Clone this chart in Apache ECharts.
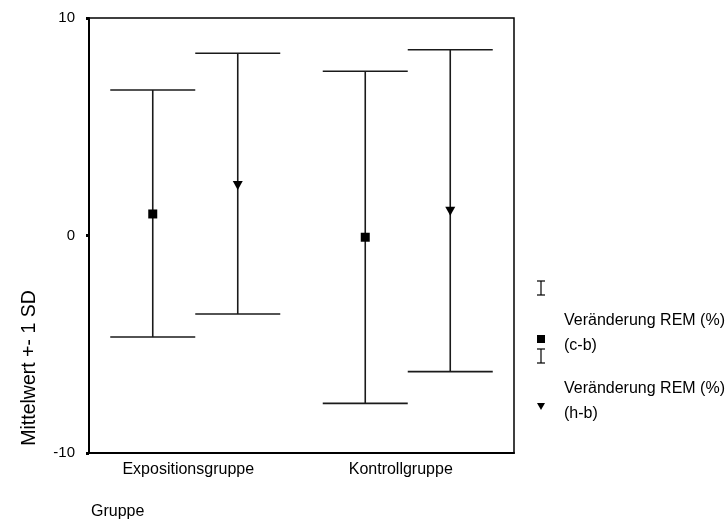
<!DOCTYPE html>
<html><head><meta charset="utf-8">
<script src="https://cdn.jsdelivr.net/npm/echarts@6/dist/echarts.min.js"></script>
<style>html,body{margin:0;padding:0;background:#fff}#c{width:726px;height:529px}</style>
</head><body><div id="c"></div>
<script>
const categories = ['Expositionsgruppe', 'Kontrollgruppe'];
const yTicks = [-10, 0, 10];
// Veränderung REM (%) (c-b)
const cbMean = [0.99, -0.08];
const cbLow = [-4.67, -7.72];
const cbHigh = [6.69, 7.55];
// Veränderung REM (%) (h-b)
const hbMean = [2.32, 1.14];
const hbLow = [-3.61, -6.26];
const hbHigh = [8.38, 8.54];

const FONT = 'Liberation Sans, Arial, sans-serif';
const chart = echarts.init(document.getElementById('c'));

function makeData(mean, low, high) {
  return categories.map((c, i) => [i, low[i], high[i], mean[i]]);
}
function errRender(side, markerType) {
  return function (params, api) {
    const i = api.value(0);
    const band = api.size([1, 0])[0];
    const center = api.coord([i, 0])[0];
    const x = center + side * 0.2 * band;
    const capL = x - 0.2 * band, capR = x + 0.2 * band;
    const yl = api.coord([i, api.value(1)])[1];
    const yh = api.coord([i, api.value(2)])[1];
    const ym = api.coord([i, api.value(3)])[1];
    const st = {stroke: '#1a1a1a', lineWidth: 1.6};
    const children = [
      {type: 'line', shape: {x1: x, y1: yl, x2: x, y2: yh}, style: st},
      {type: 'line', shape: {x1: capL, y1: yh, x2: capR, y2: yh}, style: st},
      {type: 'line', shape: {x1: capL, y1: yl, x2: capR, y2: yl}, style: st}
    ];
    if (markerType === 'square') {
      children.push({type: 'rect', shape: {x: x - 4.5, y: ym - 4.5, width: 9, height: 9}, style: {fill: '#000'}});
    } else {
      children.push({type: 'polygon', shape: {points: [[x - 5, ym - 4], [x + 5, ym - 4], [x, ym + 5]]}, style: {fill: '#000'}});
    }
    return {type: 'group', children};
  };
}

const lx = 541;
const LF = 16;
chart.setOption({
  animation: false,
  backgroundColor: '#fff',
  grid: {left: 89, right: 212, top: 18, bottom: 76, show: true, borderColor: '#000', borderWidth: 1.5},
  xAxis: {
    type: 'category', data: categories,
    axisLine: {onZero: false, lineStyle: {color: '#000', width: 2}},
    axisTick: {alignWithLabel: true, length: 3, lineStyle: {color: '#000', width: 4}},
    axisLabel: {color: '#000', fontFamily: FONT, fontSize: 16, margin: 9, padding: [0, 14, 0, 0]}
  },
  yAxis: {
    type: 'value', min: -10, max: 10, interval: 10,
    axisLine: {show: true, lineStyle: {color: '#000', width: 2}},
    axisTick: {show: true, length: 3, lineStyle: {color: '#000', width: 3}},
    splitLine: {show: false},
    axisLabel: {color: '#000', fontFamily: FONT, fontSize: 15, margin: 14,
      formatter: v => yTicks.includes(v) ? String(v) : ''}
  },
  series: [
    {type: 'custom', name: 'Veränderung REM (%) (c-b)', renderItem: errRender(-1, 'square'),
      data: makeData(cbMean, cbLow, cbHigh), encode: {x: 0, y: [1, 2, 3]}},
    {type: 'custom', name: 'Veränderung REM (%) (h-b)', renderItem: errRender(1, 'triangle'),
      data: makeData(hbMean, hbLow, hbHigh), encode: {x: 0, y: [1, 2, 3]}}
  ],
  graphic: [
    {type: 'text', x: 30, y: 368, rotation: Math.PI / 2,
      style: {text: 'Mittelwert +- 1 SD', fontFamily: FONT, fontSize: 19.5, fill: '#000', textAlign: 'center', textVerticalAlign: 'middle'}},
    {type: 'text', x: 91, y: 512,
      style: {text: 'Gruppe', fontFamily: FONT, fontSize: 16, fill: '#000', textVerticalAlign: 'middle'}},
    // legend item 1
    {type: 'group', x: lx, y: 288, children: [
      {type: 'line', shape: {x1: 0, y1: -7, x2: 0, y2: 7}, style: {stroke: '#000', lineWidth: 1.2}},
      {type: 'line', shape: {x1: -4, y1: -7, x2: 4, y2: -7}, style: {stroke: '#000', lineWidth: 1.2}},
      {type: 'line', shape: {x1: -4, y1: 7, x2: 4, y2: 7}, style: {stroke: '#000', lineWidth: 1.2}}
    ]},
    {type: 'text', x: 564, y: 321, style: {text: 'Veränderung REM (%)', fontFamily: FONT, fontSize: LF, fill: '#000', textVerticalAlign: 'middle'}},
    {type: 'rect', shape: {x: lx - 4, y: 335, width: 8, height: 8}, style: {fill: '#000'}},
    {type: 'text', x: 564, y: 346, style: {text: '(c-b)', fontFamily: FONT, fontSize: LF, fill: '#000', textVerticalAlign: 'middle'}},
    // legend item 2
    {type: 'group', x: lx, y: 356, children: [
      {type: 'line', shape: {x1: 0, y1: -7, x2: 0, y2: 7}, style: {stroke: '#000', lineWidth: 1.2}},
      {type: 'line', shape: {x1: -4, y1: -7, x2: 4, y2: -7}, style: {stroke: '#000', lineWidth: 1.2}},
      {type: 'line', shape: {x1: -4, y1: 7, x2: 4, y2: 7}, style: {stroke: '#000', lineWidth: 1.2}}
    ]},
    {type: 'text', x: 564, y: 389, style: {text: 'Veränderung REM (%)', fontFamily: FONT, fontSize: LF, fill: '#000', textVerticalAlign: 'middle'}},
    {type: 'polygon', shape: {points: [[lx - 4, 403], [lx + 4, 403], [lx, 410]]}, style: {fill: '#000'}},
    {type: 'text', x: 564, y: 414, style: {text: '(h-b)', fontFamily: FONT, fontSize: LF, fill: '#000', textVerticalAlign: 'middle'}}
  ]
});
</script></body></html>
